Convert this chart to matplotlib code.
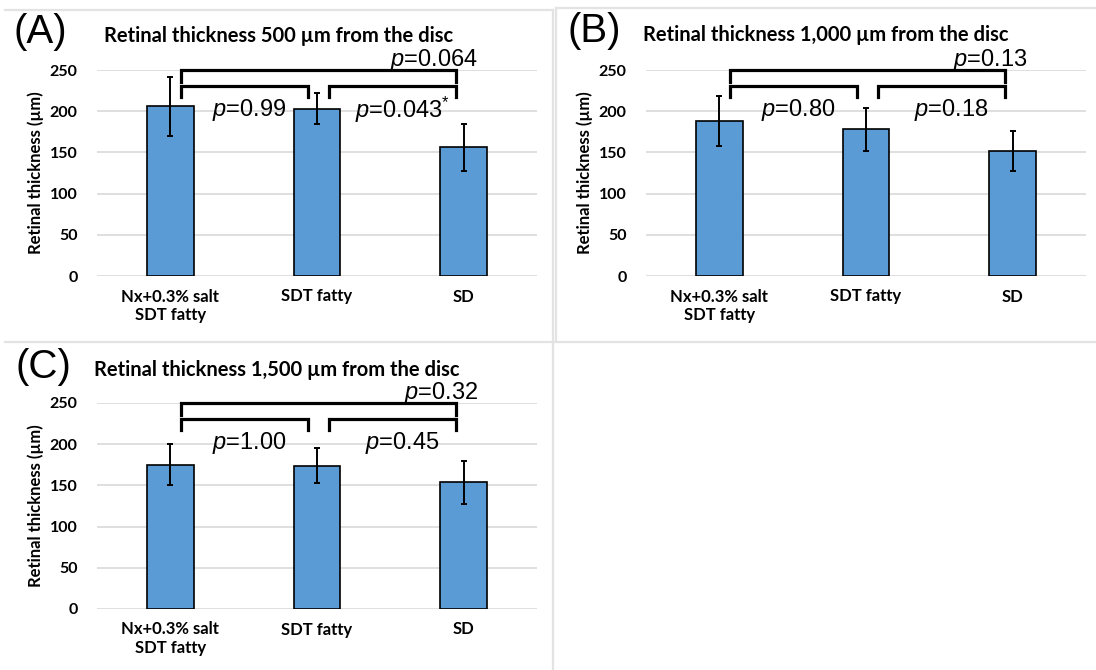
import matplotlib
matplotlib.use('Agg')
import matplotlib.pyplot as plt
from matplotlib.lines import Line2D

plt.rcParams['mathtext.fontset'] = 'custom'
plt.rcParams['mathtext.rm'] = 'Liberation Sans'
plt.rcParams['mathtext.it'] = 'Liberation Sans:italic'

## data
groups = ['Nx+0.3% salt\nSDT fatty', 'SDT fatty', 'SD']
thick_500 = [206, 203, 156]
err_500 = [36, 19, 28]
thick_1000 = [188, 178, 152]
err_1000 = [30, 26, 24]
thick_1500 = [175, 174, 154]
err_1500 = [25, 21, 26]

# p-values: (group1 vs group2, group2 vs group3, group1 vs group3)
p_500 = ['0.99', '0.043', '0.064']
p_1000 = ['0.80', '0.18', '0.13']
p_1500 = ['1.00', '0.45', '0.32']
yticks = [0, 50, 100, 150, 200, 250]

bar_col = '#5B9BD5'
grid_col = '#d9d9d9'
title_font = 'Lato'
num_font = 'Liberation Sans'


def bracket(ax, x0, x1, y_top, y_bot):
    ax.plot([x0, x0, x1, x1], [y_bot, y_top, y_top, y_bot], color='black',
            lw=2.3, solid_joinstyle='miter', clip_on=False, zorder=5)


def draw_panel(ax, vals, errs, pvals, star=False):
    x = list(range(len(groups)))
    ax.bar(x, vals, width=0.32, color=bar_col, edgecolor='black', lw=1.2, zorder=3)
    ax.errorbar(x, vals, yerr=errs, fmt='none', ecolor='black', elinewidth=1.4,
                capsize=2.5, capthick=1.4, zorder=4)
    ax.set_xlim(-0.5, 2.5)
    ax.set_ylim(0, 250)
    ax.set_yticks(yticks)
    ax.set_xticks(x)
    ax.set_xticklabels(groups, fontfamily=title_font, fontweight='bold', fontsize=12)
    ax.set_yticklabels([str(t) for t in yticks], fontfamily=title_font,
                       fontweight='bold', fontsize=11.5)
    ax.tick_params(axis='y', length=0, pad=14)
    ax.tick_params(axis='x', length=0, pad=9)
    ax.grid(axis='y', color=grid_col, lw=1.2, zorder=0)
    for s in ax.spines.values():
        s.set_visible(False)
    ax.text(-0.14, 0.5, 'Retinal thickness (µm)', transform=ax.transAxes,
            rotation=90, ha='center', va='center', fontfamily=title_font,
            fontweight='bold', fontsize=12)

    ## significance brackets
    bracket(ax, 0.07, 0.94, 230, 217)
    bracket(ax, 1.08, 1.95, 230, 217)
    bracket(ax, 0.07, 1.95, 250, 236)
    ax.text(0.54, 202, r'$\it{p}$=' + pvals[0], ha='center', va='center',
            fontfamily=num_font, fontsize=17, zorder=6)
    lab = r'$\it{p}$=' + pvals[1] + (r'$^{*}$' if star else '')
    ax.text(1.58, 202, lab, ha='center', va='center', fontfamily=num_font,
            fontsize=17, zorder=6)
    ax.text(2.1, 262, r'$\it{p}$=' + pvals[2], ha='right', va='center',
            fontfamily=num_font, fontsize=17, zorder=6, clip_on=False)


fig = plt.figure(figsize=(10.96, 6.70), dpi=100)
W, H = 1096, 670

def fx(px):
    return px / W

def fy(py):
    return 1 - py / H

axA = fig.add_axes([fx(97), fy(276), fx(440), 206 / H])
axB = fig.add_axes([fx(646), fy(276), fx(440), 206 / H])
axC = fig.add_axes([fx(97), fy(609), fx(440), 206 / H])

draw_panel(axA, thick_500, err_500, p_500, star=True)
draw_panel(axB, thick_1000, err_1000, p_1000)
draw_panel(axC, thick_1500, err_1500, p_1500)

titles = [('(A)', 14, 32, 'Retinal thickness 500 µm from the disc', 104, 36),
          ('(B)', 567, 31, 'Retinal thickness 1,000 µm from the disc', 643, 35),
          ('(C)', 16, 367, 'Retinal thickness 1,500 µm from the disc', 94, 370)]
for letter, lx, ly, t, tx, ty in titles:
    fig.text(fx(lx), fy(ly), letter, ha='left', va='center', fontfamily=num_font,
             fontsize=29)
    fig.text(fx(tx), fy(ty), t, ha='left', va='center', fontfamily=title_font,
             fontweight='bold', fontsize=14.5)

## panel frames
for xs, ys in [([5, 553], [10, 10]), ([5, 1096], [342, 342]), ([556, 1096], [8, 8]),
               ([553, 553], [10, 342]), ([556, 556], [8, 340]), ([553, 553], [342, 670])]:
    fig.add_artist(Line2D([fx(v) for v in xs], [fy(v) for v in ys],
                          color='#e3e3e3', lw=1.6))

fig.savefig('out.png', dpi=100, facecolor='white')
